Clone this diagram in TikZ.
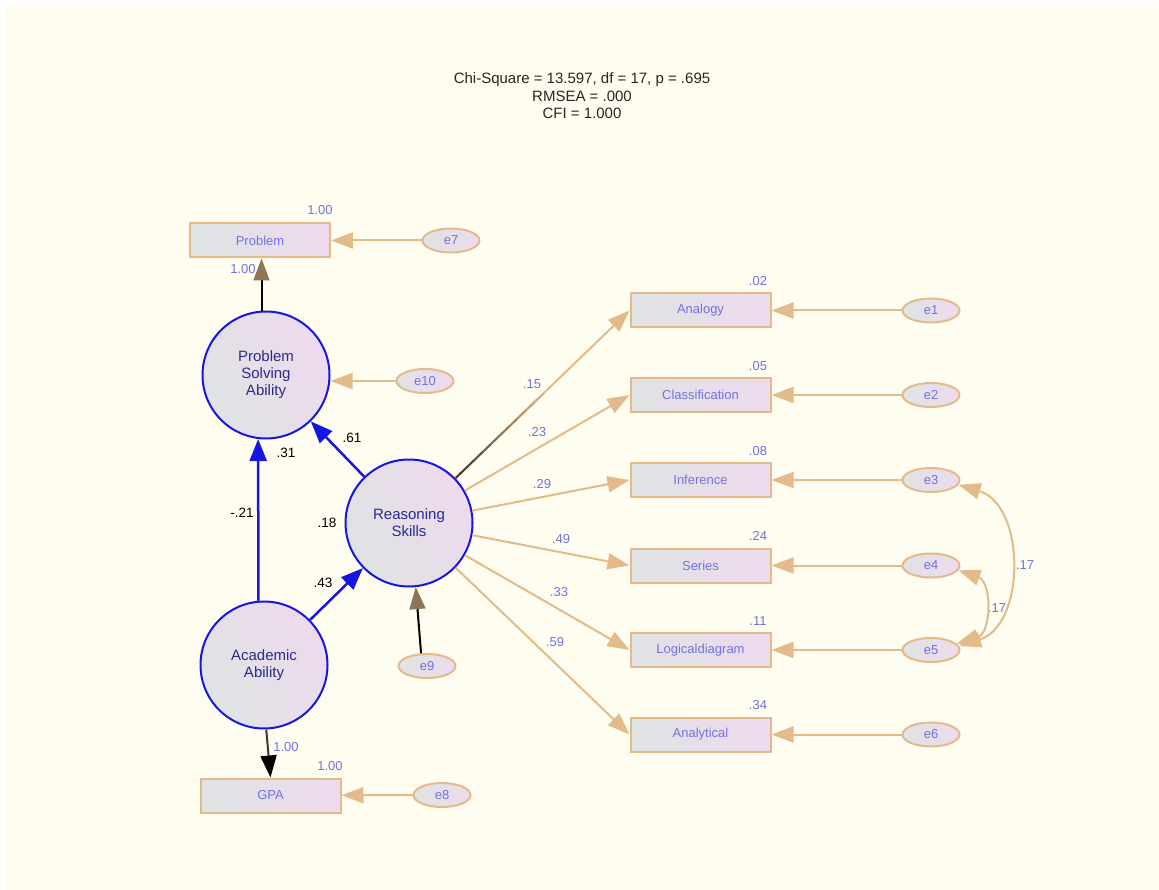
\documentclass[tikz,border=0pt]{standalone}
\usepackage{fontspec}
\setmainfont{Liberation Sans}
\usetikzlibrary{arrows.meta,shapes.geometric,calc}
\definecolor{bgc}{HTML}{FFFDF0}
\definecolor{tanc}{HTML}{E3BB8B}
\definecolor{cblue}{HTML}{1616E2}
\definecolor{fillL}{HTML}{DFE3E3}
\definecolor{fillR}{HTML}{EEDAEE}
\definecolor{navy}{HTML}{2A2A8E}
\definecolor{lblue}{HTML}{7272E2}
\definecolor{darkg}{HTML}{3E3A30}
\definecolor{tipbrown}{HTML}{8C7656}
\begin{document}
\begin{tikzpicture}[x=1pt,y=-1pt,
  lat/.style={circle, draw=cblue, line width=2pt, minimum size=127pt, inner sep=0pt,
    left color=fillL, right color=fillR, shading angle=120, align=center,
    font=\fontsize{15}{17}\selectfont, text=navy},
  obs/.style={rectangle, draw=tanc, line width=2pt, minimum width=140pt, minimum height=34pt,
    inner sep=0pt, left color=fillL, right color=fillR,
    font=\fontsize{13}{15}\selectfont, text=lblue},
  err/.style={ellipse, draw=tanc, line width=2pt, minimum width=57pt, minimum height=24pt,
    inner sep=0pt, left color=fillL, right color=fillR,
    font=\fontsize{13}{15}\selectfont, text=lblue},
  tanarr/.style={draw=tanc, line width=2pt, -{Triangle[length=22pt,width=16pt,color=tanc]}},
  covarr/.style={draw=tanc, line width=2pt, {Triangle[length=22pt,width=16pt,color=tanc]}-{Triangle[length=22pt,width=16pt,color=tanc]}},
  bluearr/.style={draw=cblue, line width=2.5pt, -{Triangle[length=22pt,width=17pt,color=cblue]}},
  darkarr/.style={draw=black, line width=2pt, -{Triangle[length=22pt,width=16pt,color=tipbrown]}},
  blackarr/.style={draw=darkg, line width=2pt, -{Triangle[length=22pt,width=16pt,color=black]}},
  num/.style={font=\fontsize{13}{15}\selectfont, text=lblue, inner sep=0pt},
  snum/.style={font=\fontsize{13.5}{15}\selectfont, text=black, inner sep=0pt},
  titletext/.style={font=\fontsize{15}{17.5}\selectfont, text=black!85, align=center, inner sep=0pt}
]
\useasboundingbox (0,0) rectangle (1159,890);
\fill[bgc] (6,5) rectangle (1159,890);

\node[titletext] (title) at (582,96) {Chi-Square = 13.597, df = 17, p = .695\\RMSEA = .000\\CFI = 1.000};

% latent variables
\node[lat] (PSA) at (266,375) {Problem\\Solving\\Ability};
\node[lat] (RS) at (409,523) {Reasoning\\Skills};
\node[lat] (AA) at (264,665) {Academic\\Ability};

% observed variables
\node[obs] (Prob) at (260,240.5) {Problem};
\node[obs] (GPA) at (270.5,795.5) {GPA};
\node[obs] (Ana) at (700.5,310.5) {Analogy};
\node[obs] (Cla) at (700.5,395) {Classification};
\node[obs] (Inf) at (700.5,480) {Inference};
\node[obs] (Ser) at (700.5,565.5) {Series};
\node[obs] (Log) at (700.5,650) {Logicaldiagram};
\node[obs] (Anl) at (700.5,734.5) {Analytical};

% errors
\node[err] (e1) at (931,310.5) {e1};
\node[err] (e2) at (931,395) {e2};
\node[err] (e3) at (931,480) {e3};
\node[err] (e4) at (931,565.5) {e4};
\node[err] (e5) at (931,650) {e5};
\node[err] (e6) at (931,734.5) {e6};
\node[err] (e7) at (451,240.5) {e7};
\node[err] (e10) at (425,381) {e10};
\node[err] (e9) at (427,666) {e9};
\node[err] (e8) at (442,795) {e8};

% error arrows
\foreach \e/\b in {e1/Ana,e2/Cla,e3/Inf,e4/Ser,e5/Log,e6/Anl,e7/Prob,e8/GPA}
  \draw[tanarr] (\e) -- (\b);
\draw[tanarr] (e10.west) -- (e10 -| PSA.east);
\draw[darkarr] (e9.115) -- (RS.276);

% structural paths
\draw[bluearr] (RS) -- (PSA);
\draw[bluearr] (AA) -- (RS);
\draw[bluearr] (AA.95) -- (PSA.263);
\draw[darkarr] (PSA.94) -- (PSA.94 |- Prob.south);
\draw[blackarr] (AA.272) -- (GPA.north);

% loadings
\foreach \b in {Ana,Cla,Inf,Ser,Log,Anl}
  \draw[tanarr] (RS) -- (\b.west);
\path (RS) -- (Ana.west) coordinate[pos=0] (g0) coordinate[pos=0.5] (g1);
\foreach \i in {0,...,9}{
  \pgfmathsetmacro\p{\i/10}
  \pgfmathsetmacro\q{(\i+1)/10+0.01}
  \pgfmathtruncatemacro\m{\i*10}
  \draw[line width=2pt, draw=tanc!\m!darkg] ($(g0)!\p!(g1)$) -- ($(g0)!\q!(g1)$);
}

% covariances
\draw[covarr] (e3.-10) .. controls (1026,505) and (1026,625) .. (e5.8);
\draw[covarr] (e4.-10) .. controls (992,582) and (992,633) .. (e5.14);

% labels
\node[num] (l1) at (320,210) {1.00};
\node[num] (l2) at (243,269) {1.00};
\node[num] (l3) at (330,766) {1.00};
\node[num] (l4) at (286,747) {1.00};
\node[num] (r1) at (758,281) {.02};
\node[num] (r2) at (758,366) {.05};
\node[num] (r3) at (758,451) {.08};
\node[num] (r4) at (758,536) {.24};
\node[num] (r5) at (758,621) {.11};
\node[num] (r6) at (758,705) {.34};
\node[num] (w1) at (532,384) {.15};
\node[num] (w2) at (537,432) {.23};
\node[num] (w3) at (542,484) {.29};
\node[num] (w4) at (561,539) {.49};
\node[num] (w5) at (559,592) {.33};
\node[num] (w6) at (555,642) {.59};
\node[num] (c1) at (1025,565) {.17};
\node[num] (c2) at (997,608) {.17};
\node[snum] (s1) at (352,438) {.61};
\node[snum] (s2) at (286,453) {.31};
\node[snum] (s3) at (242,513) {-.21};
\node[snum] (s4) at (327,523) {.18};
\node[snum] (s5) at (323,583) {.43};
\end{tikzpicture}
\end{document}
